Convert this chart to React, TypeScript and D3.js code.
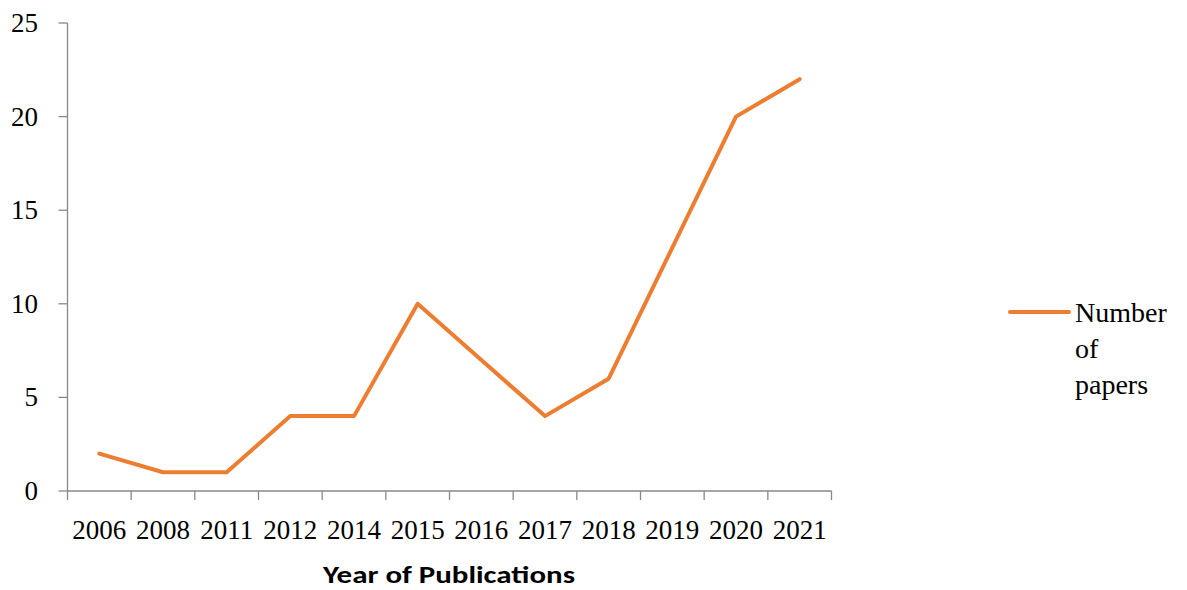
import React, { useEffect, useRef } from "react";
import * as d3 from "d3";

const years = ["2006", "2008", "2011", "2012", "2014", "2015", "2016", "2017", "2018", "2019", "2020", "2021"];
const papers = [2, 1, 1, 4, 4, 10, 7, 4, 6, 13, 20, 22];
const yTicks = [0, 5, 10, 15, 20, 25];

function App() {
  const svgRef = useRef<SVGSVGElement>(null);

  useEffect(() => {
    const svg = d3.select(svgRef.current);
    svg.selectAll("*").remove();

    const left = 67.5, right = 831.5, top = 23, bottom = 491;
    const axisColor = "#898989";
    const serif = "'Book Antiqua', Palatino, 'Liberation Serif', serif";

    const x = d3.scaleBand().domain(years).range([left, right]);
    const y = d3.scaleLinear().domain([0, 25]).range([bottom, top]);

    // y axis
    svg.append("line")
      .attr("x1", left).attr("x2", left)
      .attr("y1", top).attr("y2", bottom)
      .attr("stroke", axisColor).attr("stroke-width", 1.3);
    svg.selectAll(".ytick")
      .data(yTicks)
      .enter()
      .append("line")
      .attr("x1", left - 9).attr("x2", left)
      .attr("y1", (d) => y(d)).attr("y2", (d) => y(d))
      .attr("stroke", axisColor).attr("stroke-width", 1.3);
    svg.selectAll(".ylab")
      .data(yTicks)
      .enter()
      .append("text")
      .attr("x", 38)
      .attr("y", (d) => y(d) + 9)
      .attr("text-anchor", "end")
      .attr("font-family", serif)
      .attr("font-size", 27)
      .text((d) => d);

    // x axis
    svg.append("line")
      .attr("x1", left).attr("x2", right)
      .attr("y1", bottom).attr("y2", bottom)
      .attr("stroke", axisColor).attr("stroke-width", 1.3);
    const edges = years.map((d) => x(d) as number).concat([right]);
    svg.selectAll(".xtick")
      .data(edges)
      .enter()
      .append("line")
      .attr("x1", (d) => d).attr("x2", (d) => d)
      .attr("y1", bottom).attr("y2", bottom + 9)
      .attr("stroke", axisColor).attr("stroke-width", 1.3);
    svg.selectAll(".xlab")
      .data(years)
      .enter()
      .append("text")
      .attr("x", (d) => (x(d) as number) + x.bandwidth() / 2)
      .attr("y", 539)
      .attr("text-anchor", "middle")
      .attr("font-family", serif)
      .attr("font-size", 27)
      .text((d) => d);

    // title
    svg.append("text")
      .attr("x", 449)
      .attr("y", 583)
      .attr("text-anchor", "middle")
      .attr("font-family", "Calibri, 'Liberation Sans', Arial, sans-serif")
      .attr("font-weight", "bold")
      .attr("font-size", 24)
      .attr("textLength", 252)
      .attr("lengthAdjust", "spacingAndGlyphs")
      .text("Year of Publications");

    // line
    const line = d3.line<number>()
      .x((d, i) => (x(years[i]) as number) + x.bandwidth() / 2)
      .y((d) => y(d));
    svg.append("path")
      .datum(papers)
      .attr("d", line)
      .attr("fill", "none")
      .attr("stroke", "#ED7D31")
      .attr("stroke-width", 4)
      .attr("stroke-linejoin", "round")
      .attr("stroke-linecap", "round");

    // legend
    svg.append("line")
      .attr("x1", 1010).attr("x2", 1069)
      .attr("y1", 312).attr("y2", 312)
      .attr("stroke", "#ED7D31").attr("stroke-width", 4)
      .attr("stroke-linecap", "round");
    const lg = svg.append("text")
      .attr("font-family", serif)
      .attr("font-size", 28);
    ["Number", "of", "papers"].forEach((t, i) => {
      lg.append("tspan").attr("x", 1075).attr("y", 322 + i * 36).text(t);
    });
  }, []);

  return (
    <svg
      ref={svgRef}
      width={1187}
      height={590}
      style={{ position: "absolute", left: 0, top: 0, background: "#fff" }}
    ></svg>
  );
}

export default App;
